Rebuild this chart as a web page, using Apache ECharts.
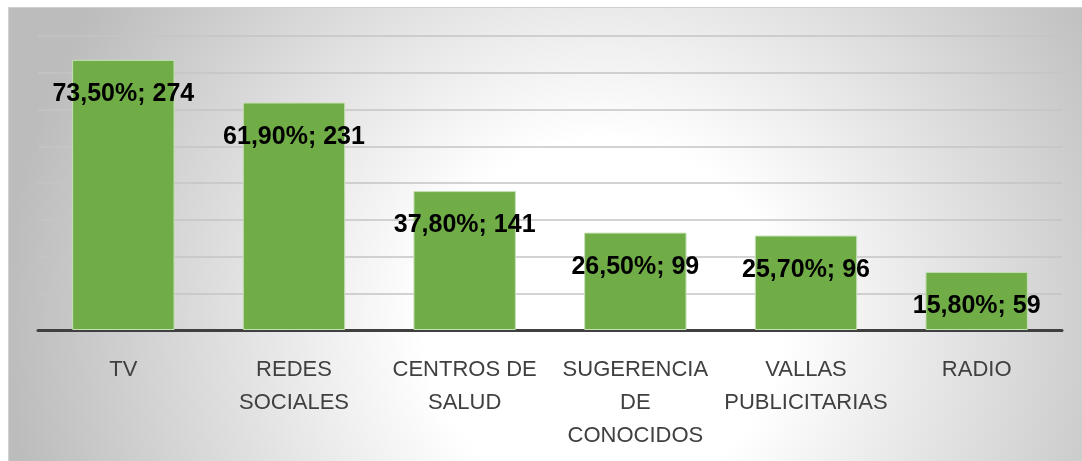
<!DOCTYPE html>
<html>
<head>
<meta charset="utf-8">
<script src="https://cdn.jsdelivr.net/npm/echarts@6/dist/echarts.min.js"></script>
<style>
html, body { margin: 0; padding: 0; background: #fff; }
#chart { width: 1082px; height: 461px; }
</style>
</head>
<body>
<div id="chart"></div>
<script>
var categories = ['TV', 'REDES\nSOCIALES', 'CENTROS DE\nSALUD', 'SUGERENCIA\nDE\nCONOCIDOS', 'VALLAS\nPUBLICITARIAS', 'RADIO']
var percents = [73.5, 61.9, 37.8, 26.5, 25.7, 15.8]
var counts = [274, 231, 141, 99, 96, 59]

var chart = echarts.init(document.getElementById('chart'))

var option = {
  animation: false,
  graphic: [{
    type: 'rect',
    z: -10,
    shape: { x: 8.5, y: 7.5, width: 1080, height: 460 },
    style: {
      fill: {
        type: 'radial', x: 0.55, y: 0.68, r: 1.3,
        colorStops: [
          { offset: 0, color: '#ffffff' },
          { offset: 0.3, color: '#ffffff' },
          { offset: 1, color: '#bcbcbc' }
        ]
      },
      stroke: '#d0d0d0',
      lineWidth: 1
    }
  }],
  grid: { left: 38, right: 20, top: 36, bottom: 131 },
  xAxis: {
    type: 'category',
    data: categories,
    axisTick: { show: false },
    axisLine: { lineStyle: { color: '#404040', width: 3 } },
    axisLabel: {
      color: '#404040',
      fontFamily: 'Liberation Sans',
      fontSize: 22,
      lineHeight: 33,
      margin: 23,
      interval: 0
    }
  },
  yAxis: {
    type: 'value',
    min: 0,
    max: 80,
    interval: 10,
    axisLabel: { show: false },
    axisLine: { show: false },
    axisTick: { show: false },
    splitLine: { lineStyle: { color: '#c4c4c4', width: 1.5 } }
  },
  series: [{
    type: 'bar',
    data: percents,
    barWidth: '60%',
    itemStyle: { color: '#70ad47', borderColor: '#c5e0b4', borderWidth: 1 },
    label: {
      show: true,
      position: 'insideTop',
      distance: 22,
      color: '#000',
      fontFamily: 'Liberation Sans',
      fontWeight: 'bold',
      fontSize: 25,
      formatter: function (p) {
        return percents[p.dataIndex].toFixed(2).replace('.', ',') + '%; ' + counts[p.dataIndex]
      }
    }
  }]
}

chart.setOption(option)
</script>
</body>
</html>
